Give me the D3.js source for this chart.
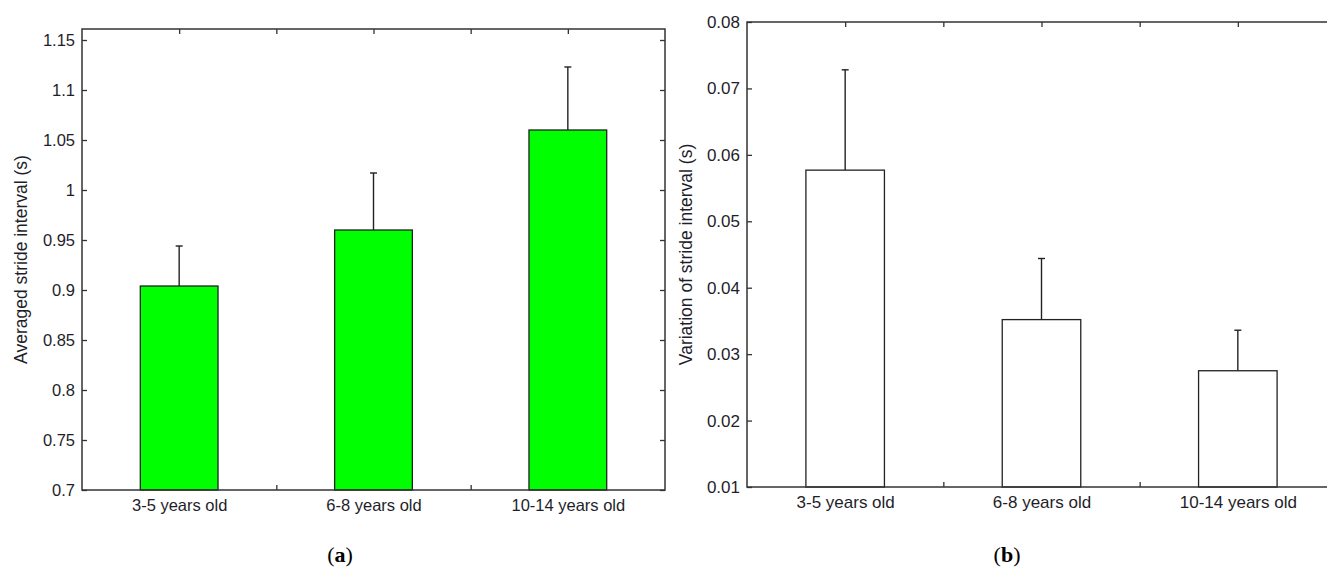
<!DOCTYPE html>
<html>
<head>
<meta charset="utf-8">
<script src="https://cdn.jsdelivr.net/npm/d3@7"></script>
<style>
html,body{margin:0;padding:0;background:#fff;overflow:hidden;}
svg{display:block;}
</style>
</head>
<body>
<svg id="chart" width="1327" height="569"></svg>
<script>
// ---- data ----
const categories = ["3-5 years old", "6-8 years old", "10-14 years old"];
const avgStride = [0.904, 0.960, 1.060];
const avgStrideErr = [0.040, 0.057, 0.063];
const varStride = [0.0577, 0.0352, 0.0275];
const varStrideErr = [0.0151, 0.0092, 0.0061];
const leftTicks = [0.7, 0.75, 0.8, 0.85, 0.9, 0.95, 1, 1.05, 1.1, 1.15];
const rightTicks = [0.01, 0.02, 0.03, 0.04, 0.05, 0.06, 0.07, 0.08];
const xTicks = [1, 1.5, 2, 2.5, 3];

const svg = d3.select("#chart");
const FONT = "'Liberation Sans', Arial, sans-serif";
const TXT = "#1e1e2a";
const AX = "#333";

function panel(opts) {
  const {x0, x1, y0, y1, yDomain, yTicks, values, errs, fill, title, titleX, fmt, fontSize, label, labelX} = opts;
  const g = svg.append("g");
  const x = d3.scaleLinear().domain([0.5, 3.5]).range([x0, x1]);
  const y = d3.scaleLinear().domain(yDomain).range([y1, y0]);

  const styleAxis = sel => {
    sel.select(".domain").remove();
    sel.selectAll(".tick line").attr("stroke", AX).attr("stroke-width", 1.3);
    sel.selectAll(".tick text").attr("fill", TXT).style("font-family", FONT).style("font-size", fontSize + "px");
  };

  g.append("g").attr("transform", `translate(${x0},0)`)
    .call(d3.axisLeft(y).tickValues(yTicks).tickSize(-5).tickPadding(7).tickFormat(fmt))
    .call(styleAxis);
  g.append("g").attr("transform", `translate(${x1},0)`)
    .call(d3.axisRight(y).tickValues(yTicks).tickSize(-5).tickFormat(""))
    .call(styleAxis);
  g.append("g").attr("transform", `translate(0,${y0})`)
    .call(d3.axisTop(x).tickValues(xTicks).tickSize(-5).tickFormat(""))
    .call(styleAxis);
  g.append("g").attr("transform", `translate(0,${y1})`)
    .call(d3.axisBottom(x).tickValues(xTicks).tickSize(-5).tickPadding(9)
      .tickFormat(d => Number.isInteger(d) ? categories[d - 1] : ""))
    .call(styleAxis);

  const bw = x(1.2) - x(0.8);
  // error bars
  const eg = g.append("g").attr("stroke", "#222").attr("stroke-width", 1.4);
  values.forEach((v, i) => {
    const cx = x(i + 1);
    eg.append("line").attr("x1", cx).attr("x2", cx).attr("y1", y(v)).attr("y2", y(v + errs[i]));
    eg.append("line").attr("x1", cx - 3.5).attr("x2", cx + 3.5).attr("y1", y(v + errs[i])).attr("y2", y(v + errs[i]));
  });
  // bars
  g.append("g").selectAll("rect").data(values).join("rect")
    .attr("x", (d, i) => x(i + 1) - bw / 2)
    .attr("width", bw)
    .attr("y", d => y(d))
    .attr("height", d => y1 - y(d))
    .attr("fill", fill)
    .attr("stroke", "#222")
    .attr("stroke-width", 1.3);

  // box
  g.append("rect").attr("x", x0).attr("y", y0).attr("width", x1 - x0).attr("height", y1 - y0)
    .attr("fill", "none").attr("stroke", AX).attr("stroke-width", 1.5);

  // y title
  g.append("text")
    .attr("transform", `translate(${titleX},${(y0 + y1) / 2}) rotate(-90)`)
    .attr("text-anchor", "middle").attr("dy", "0.35em")
    .attr("fill", TXT).style("font-family", FONT).style("font-size", "17.5px")
    .text(title);

  // panel label
  const lt = svg.append("text").attr("x", labelX).attr("y", 562).attr("text-anchor", "middle")
    .attr("fill", "#000").style("font-family", "'Liberation Serif', 'Times New Roman', serif")
    .style("font-size", "22px").style("font-weight", "bold");
  lt.append("tspan").style("font-weight", "normal").text("(");
  lt.append("tspan").text(label);
  lt.append("tspan").style("font-weight", "normal").text(")");
}

panel({
  x0: 82, x1: 665, y0: 29, y1: 490,
  yDomain: [0.7, 1.161], yTicks: leftTicks,
  values: avgStride, errs: avgStrideErr, fill: "#00ff00",
  title: "Averaged stride interval (s)", titleX: 21,
  fmt: d => String(+d.toFixed(2)), fontSize: 16.5, label: "a", labelX: 340
});

panel({
  x0: 747, x1: 1336, y0: 22, y1: 487,
  yDomain: [0.01, 0.08], yTicks: rightTicks,
  values: varStride, errs: varStrideErr, fill: "#ffffff",
  title: "Variation of stride interval (s)", titleX: 686,
  fmt: d => d.toFixed(2), fontSize: 17, label: "b", labelX: 1007
});
</script>
</body>
</html>
